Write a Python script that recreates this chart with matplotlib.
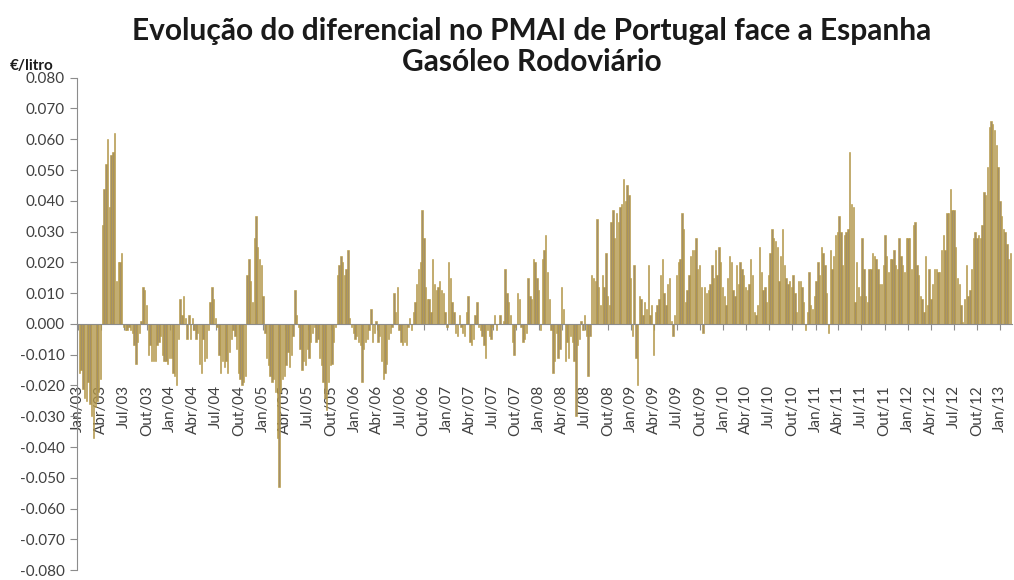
import numpy as np
import pandas as pd
import matplotlib
matplotlib.use("Agg")
from matplotlib import pyplot as plt
import matplotlib.dates as mdates
from matplotlib.ticker import FormatStrFormatter, MultipleLocator

# Weekly differential (EUR/litre)
y2003 = [-0.016, -0.015, -0.021, -0.024, -0.025, -0.019, -0.026, -0.030, -0.037, -0.027, -0.025, -0.022, -0.018,
         0.032, 0.044, 0.052, 0.060, 0.038, 0.055, 0.056, 0.062, 0.014, 0.020, 0.020, 0.023, -0.001,
         -0.002, -0.002, -0.001, -0.002, -0.003, -0.007, -0.013, -0.006, -0.003, 0.001, 0.012, 0.011, 0.006,
         -0.010, -0.007, -0.012, -0.012, -0.012, -0.007, -0.006, -0.004, -0.010, -0.012, -0.012, -0.013, -0.011]
y2004 = [-0.011, -0.016, -0.017, -0.020, -0.005, 0.008, 0.003, 0.009, 0.002, -0.005, 0.003, -0.005, 0.002,
         -0.002, -0.005, -0.003, -0.013, -0.016, -0.005, -0.012, -0.011, -0.002, 0.007, 0.012, 0.008, 0.002,
         -0.001, -0.010, -0.016, -0.012, -0.014, -0.012, -0.016, -0.009, -0.005, -0.002, -0.004, -0.008, -0.016,
         -0.018, -0.020, -0.019, -0.017, 0.016, 0.021, 0.014, 0.007, 0.028, 0.035, 0.025, 0.021, 0.019]
y2005 = [0.009, -0.003, -0.011, -0.0135, -0.017, -0.019, -0.018, -0.022, -0.037, -0.053, -0.022, -0.018, -0.017,
         -0.0135, -0.009, -0.014, -0.010, -0.004, 0.011, 0.003, -0.001, -0.008, -0.015, -0.012, -0.0135, -0.008,
         -0.011, -0.006, -0.003, -0.001, -0.006, -0.005, -0.011, -0.0135, -0.019, -0.024, -0.028, -0.019, -0.0135,
         -0.013, -0.006, -0.001, 0.016, 0.019, 0.022, 0.020, 0.016, 0.018, 0.024, 0.002, -0.001, -0.003]
y2006 = [-0.005, -0.004, -0.006, -0.007, -0.019, -0.008, -0.006, -0.005, -0.002, 0.005, -0.006, -0.003, 0.001,
         -0.006, -0.004, -0.012, -0.018, -0.016, -0.013, -0.005, -0.003, -0.001, 0.010, 0.004, 0.012, -0.002,
         -0.006, -0.007, -0.006, -0.007, -0.001, 0.002, -0.002, 0.004, 0.007, 0.013, 0.018, 0.020, 0.037,
         0.028, 0.012, 0.008, 0.008, 0.004, 0.021, 0.013, 0.011, 0.012, 0.014, 0.011, 0.010, 0.004]
y2007 = [-0.001, 0.020, 0.015, 0.007, 0.004, -0.003, -0.004, 0.003, -0.001, -0.003, -0.004, 0.004, 0.009,
         -0.006, -0.007, -0.005, 0.003, 0.007, -0.001, -0.002, -0.004, -0.007, -0.011, -0.002, -0.004, -0.005,
         -0.001, 0.003, -0.002, 0.000, 0.003, 0.000, 0.001, 0.018, 0.010, 0.007, 0.003, -0.006, -0.010,
         -0.001, 0.010, 0.008, -0.001, -0.006, -0.005, -0.003, 0.015, 0.009, 0.008, 0.021, 0.020, 0.015]
y2008 = [0.011, -0.002, 0.021, 0.024, 0.029, 0.017, 0.008, -0.002, -0.016, -0.012, -0.003, -0.011, -0.008,
         0.012, 0.005, -0.012, -0.006, -0.011, -0.004, -0.006, -0.012, -0.030, -0.007, -0.005, 0.001, -0.002,
         0.003, -0.004, -0.017, -0.004, 0.016, 0.015, 0.014, 0.034, 0.012, 0.006, 0.016, 0.012, 0.023,
         0.009, 0.006, 0.033, 0.037, 0.028, 0.036, 0.033, 0.038, 0.039, 0.047, 0.040, 0.045, 0.042]
y2009 = [0.015, -0.004, 0.019, -0.011, -0.020, 0.009, 0.008, 0.003, 0.007, 0.005, 0.019, 0.003, 0.006,
         -0.010, 0.004, 0.006, 0.008, 0.016, 0.021, 0.010, 0.006, 0.013, 0.015, 0.001, -0.004, 0.003,
         0.016, 0.020, 0.021, 0.036, 0.031, 0.007, 0.011, 0.016, 0.022, 0.024, 0.024, 0.028, 0.018,
         0.019, 0.012, -0.003, 0.012, 0.010, 0.011, 0.013, 0.019, 0.015, 0.024, 0.016, 0.025, 0.020]
y2010 = [0.012, 0.009, 0.006, 0.015, 0.022, 0.020, 0.011, 0.009, 0.019, 0.013, 0.020, 0.018, 0.016,
         0.012, 0.011, 0.013, 0.021, 0.016, 0.004, 0.003, 0.006, 0.025, 0.017, 0.011, 0.012, 0.007,
         0.016, 0.023, 0.031, 0.028, 0.027, 0.025, 0.014, 0.022, 0.031, 0.019, 0.015, 0.013, 0.014,
         0.012, 0.016, 0.010, 0.004, 0.014, 0.014, 0.012, 0.007, -0.002, 0.004, 0.017, 0.006, 0.005]
y2011 = [0.009, 0.014, 0.020, 0.016, 0.025, 0.023, 0.019, 0.010, -0.003, 0.024, 0.018, 0.022, 0.029,
         0.030, 0.035, 0.030, 0.019, 0.029, 0.030, 0.031, 0.056, 0.039, 0.038, 0.007, 0.020, 0.012,
         0.009, 0.028, 0.018, 0.009, 0.007, 0.018, 0.018, 0.023, 0.022, 0.021, 0.018, 0.013, 0.013,
         0.019, 0.029, 0.022, 0.017, 0.021, 0.021, 0.024, 0.019, 0.018, 0.028, 0.022, 0.019, 0.017]
y2012 = [0.028, 0.028, 0.028, 0.018, 0.032, 0.033, 0.019, 0.016, 0.009, 0.008, 0.004, 0.022, 0.006,
         0.018, 0.008, 0.013, 0.018, 0.018, 0.017, 0.017, 0.024, 0.029, 0.024, 0.036, 0.036, 0.044,
         0.037, 0.037, 0.025, 0.015, 0.013, 0.006, 0.0005, 0.008, 0.019, 0.009, 0.011, 0.018, 0.028,
         0.030, 0.028, 0.029, 0.028, 0.032, 0.043, 0.042, 0.051, 0.064, 0.066, 0.065, 0.063, 0.058]
y2013 = [0.051, 0.040, 0.035, 0.031, 0.030, 0.026, 0.021, 0.023]

values = y2003 + y2004 + y2005 + y2006 + y2007 + y2008 + y2009 + y2010 + y2011 + y2012 + y2013
weeks = pd.date_range("2003-01-06", periods=len(values), freq="7D")

quarters = pd.date_range("2003-01-01", "2013-01-01", freq="QS")
month_pt = {1: "Jan", 4: "Abr", 7: "Jul", 10: "Out"}
quarter_labels = [f"{month_pt[d.month]}/{d.strftime('%y')}" for d in quarters]

title = "Evolução do diferencial no PMAI de Portugal face a Espanha\nGasóleo Rodoviário"
unit = "€/litro"

plt.rcParams["font.family"] = ["Lato", "DejaVu Sans"]

fig = plt.figure(figsize=(10.14, 5.8), dpi=100)
ax = fig.add_axes([0.076, 0.017, 0.922, 0.849])

ax.bar(weeks, values, width=5.5, color="#a3906a", edgecolor="#b99a3c",
       linewidth=0.4, zorder=2)

# spine position first: moving it resets the ticks
for side in ["top", "right"]:
    ax.spines[side].set_visible(False)
ax.spines["bottom"].set_position(("data", 0))
ax.spines["left"].set_color("#8c8c8c")
ax.spines["bottom"].set_color("#8c8c8c")
ax.spines["bottom"].set_zorder(3)

ax.set_ylim(-0.08, 0.08)
ax.set_xlim(pd.Timestamp("2002-12-28"), pd.Timestamp("2013-02-17"))
ax.yaxis.set_major_locator(MultipleLocator(0.01))
ax.yaxis.set_major_formatter(FormatStrFormatter("%.3f"))

ax.set_xticks(mdates.date2num(quarters))
ax.set_xticklabels(quarter_labels, rotation=90)

ax.tick_params(axis="y", direction="out", length=5, color="#8c8c8c",
               labelsize=11, labelcolor="#404040", pad=4)
ax.tick_params(axis="x", direction="out", length=4, color="#8c8c8c",
               labelsize=11, labelcolor="#404040", pad=40)

fig.text(0.524, 0.920, title, ha="center", va="center", fontsize=21.5,
         fontweight="bold", color="#1a1a1a", linespacing=1.12)
fig.text(0.010, 0.887, unit, ha="left", va="center", fontsize=11,
         fontweight="bold", color="#1a1a1a")

fig.savefig("out.png", dpi=100)
